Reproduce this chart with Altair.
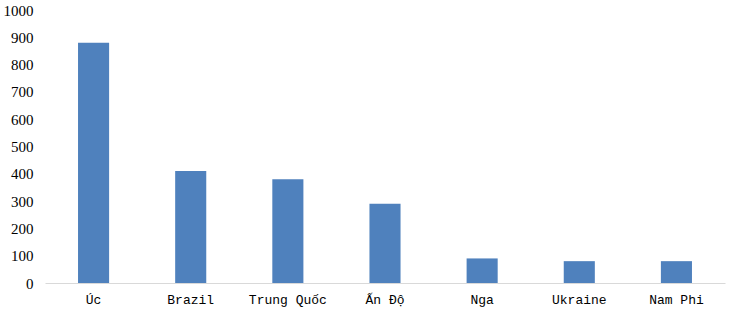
import altair as alt
import pandas as pd

countries = ["Úc", "Brazil", "Trung Quốc", "Ấn Độ", "Nga", "Ukraine", "Nam Phi"]
values = [880, 410, 380, 290, 90, 80, 80]

df = pd.DataFrame({"country": countries, "value": values})

chart = alt.Chart(df).mark_bar(color="#4F81BD").encode(
    x=alt.X("country:N", sort=countries, title=None,
            scale=alt.Scale(paddingInner=0.68, paddingOuter=0.34),
            axis=alt.Axis(labelAngle=0, labelFont="Liberation Mono", labelFontSize=13,
                          labelColor="#000000", ticks=False, domainColor="#d9d9d9",
                          labelPadding=10)),
    y=alt.Y("value:Q", title=None,
            scale=alt.Scale(domain=[0, 1000]),
            axis=alt.Axis(values=list(range(0, 1001, 100)), format="d", grid=False, domain=False, ticks=False,
                          labelFont="Liberation Serif", labelFontSize=15, labelColor="#000000",
                          labelPadding=12)),
).properties(
    width=680, height=273,
    autosize=alt.AutoSizeParams(type="none"),
    padding={"left": 45, "top": 10, "right": 14, "bottom": 35},
).configure_view(stroke=None)

chart.save("out.html", embed_options={"renderer": "svg", "actions": False})
